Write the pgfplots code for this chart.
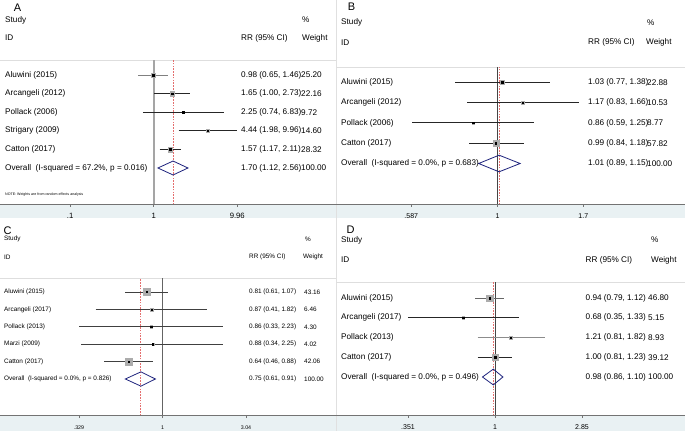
\documentclass[border=0pt]{standalone}
\usepackage{fontspec}
\setmainfont{Liberation Sans}
\usepackage{pgfplots}
\pgfplotsset{compat=1.18}
\usepackage{pgfplotstable}

\definecolor{navyd}{RGB}{30,35,125}
\definecolor{refred}{RGB}{228,110,110}
\definecolor{bandc}{RGB}{233,241,243}
\definecolor{sqgray}{RGB}{172,172,172}
\definecolor{sepc}{RGB}{222,222,222}
\definecolor{nullA}{RGB}{165,165,165}
\definecolor{nullD}{RGB}{70,70,70}
\definecolor{nullC}{RGB}{100,100,100}

% row est lo hi weight
\pgfplotstableread{
row est lo hi w
-1 0.98 0.65 1.46 25.20
-2 1.65 1.00 2.73 22.16
-3 2.25 0.74 6.83 9.72
-4 4.44 1.98 9.96 14.60
-5 1.57 1.17 2.11 28.32
}\tabA
\pgfplotstableread{
row est lo hi w
-1 1.03 0.77 1.38 22.88
-2 1.17 0.83 1.66 10.53
-3 0.86 0.59 1.25 8.77
-4 0.99 0.84 1.18 57.82
}\tabB
\pgfplotstableread{
row est lo hi w
-1 0.81 0.61 1.07 43.16
-2 0.87 0.41 1.82 6.46
-3 0.86 0.33 2.23 4.30
-4 0.88 0.34 2.25 4.02
-5 0.64 0.46 0.88 42.06
}\tabC
\pgfplotstableread{
row est lo hi w
-1 0.94 0.79 1.12 46.80
-2 0.68 0.35 1.33 5.15
-3 1.21 0.81 1.82 8.93
-4 1.00 0.81 1.23 39.12
}\tabD

\newcommand{\ci}[4][black!85]{\addplot[color=#1, line width=0.8pt] coordinates {(#3,#2) (#4,#2)};}
\newcommand{\vref}[4]{\addplot[color=#1, line width=#2, #3] coordinates {(#4,-20) (#4,20)};}
\newcommand{\trow}[8]{%
  \node[#1] at (#3pt,#2pt) {#4};
  \node[#1] at (#5pt,#2pt) {#6};
  \node[#1] at (#7pt,#2pt) {#8};}

\begin{document}
\begin{tikzpicture}[
  t/.style={anchor=west, inner sep=0pt, font=\fontsize{8.2}{9.5}\selectfont},
  tc/.style={anchor=west, inner sep=0pt, font=\fontsize{6.4}{7.5}\selectfont},
  big/.style={inner sep=0pt, anchor=base, font=\fontsize{11}{12}\selectfont}]
\useasboundingbox (0pt,0pt) rectangle (685pt,431pt);
\begin{scope}[shift={(0pt,431pt)}, yscale=-1]
  \fill[bandc] (0pt,204pt) rectangle (685pt,218pt);
  \fill[bandc] (0pt,415pt) rectangle (685pt,431pt);
  \draw[black!12, line width=0.8pt] (336pt,0pt) -- (336pt,431pt);
  \draw[sepc, line width=1pt] (0pt,61pt) -- (336pt,61pt);
  \draw[sepc, line width=1pt] (336pt,68pt) -- (685pt,68pt);
  \draw[sepc, line width=1pt] (0pt,279pt) -- (336pt,279pt);
  \draw[sepc, line width=1pt] (336pt,283pt) -- (685pt,283pt);
\end{scope}

% ---------------- reference lines (underlay axes) ----------------
\begin{axis}[scale only axis, anchor=south west, xmode=log, hide axis,
  at={(0pt,227pt)}, width=336pt, height=143pt,
  xmin=0.014464, xmax=151.1, ymin=-7.9355, ymax=-0.2473]
  \vref{nullA}{1.6pt}{solid}{1}
  \vref{refred}{1.1pt}{dash pattern=on 1.6pt off 1.2pt}{1.70}
\end{axis}
\begin{axis}[scale only axis, anchor=south west, xmode=log, hide axis,
  at={(336pt,227pt)}, width=349pt, height=136pt,
  xmin=0.36860, xmax=3.1868, ymin=-6.995, ymax=-0.2956]
  \vref{nullD}{0.8pt}{solid}{1}
  \vref{refred}{1.1pt}{dash pattern=on 1.6pt off 1.2pt}{1.01}
\end{axis}
\begin{axis}[scale only axis, anchor=south west, xmode=log, hide axis,
  at={(0pt,16pt)}, width=336pt, height=136pt,
  xmin=0.11500, xmax=10.067, ymin=-8.069, ymax=-0.2529]
  \vref{nullC}{1.2pt}{solid}{1}
  \vref{refred}{1.1pt}{dash pattern=on 1.6pt off 1.2pt}{0.75}
\end{axis}
\begin{axis}[scale only axis, anchor=south west, xmode=log, hide axis,
  at={(336pt,16pt)}, width=349pt, height=132pt,
  xmin=0.14751, xmax=9.845, ymin=-6.924, ymax=-0.2405]
  \vref{nullD}{0.8pt}{solid}{1}
  \vref{refred}{1.1pt}{dash pattern=on 1.6pt off 1.2pt}{0.98}
\end{axis}

% ---------------- Panel A ----------------
\begin{axis}[scale only axis, anchor=south west, xmode=log,
  axis x line*=bottom, axis y line=none,
  x axis line style={black!55, line width=0.8pt},
  tick align=outside, major tick length=3pt,
  major tick style={black!55, line width=0.8pt},
  xminorticks=false, ytick=\empty, enlargelimits=false,
  xticklabel style={anchor=center, inner sep=0pt, yshift=-9.3pt, font=\fontsize{7.7}{8}\selectfont},
  at={(0pt,227pt)}, width=336pt, height=143pt,
  xmin=0.014464, xmax=151.1, ymin=-7.9355, ymax=-0.2473,
  xtick={0.1,1,9.96}, xticklabels={.1,1,9.96}]
  \addplot[scatter, only marks, mark=square*, point meta=explicit,
    point meta min=0, point meta max=100,
    scatter/use mapped color={draw=sqgray, fill=sqgray},
    scatter/@pre marker code/.append style={/tikz/mark size={0.45*sqrt(\pgfplotspointmetatransformed/10)}}]
    table[x=est, y=row, meta=w] \tabA;
  \ci[black!50]{-1}{0.65}{1.46}
  \ci{-2}{1.00}{2.73}
  \ci{-3}{0.74}{6.83}
  \ci{-4}{1.98}{9.96}
  \ci{-5}{1.17}{2.11}
  \addplot[only marks, mark=square*, mark size=0.75pt, color=black] table[x=est, y=row] \tabA;
  \addplot[color=navyd, line width=0.8pt] coordinates {(1.12,-6) (1.70,-5.625) (2.56,-6) (1.70,-6.375)} --cycle;
\end{axis}

% ---------------- Panel B ----------------
\begin{axis}[scale only axis, anchor=south west, xmode=log,
  axis x line*=bottom, axis y line=none,
  x axis line style={black!55, line width=0.8pt},
  tick align=outside, major tick length=3pt,
  major tick style={black!55, line width=0.8pt},
  xminorticks=false, ytick=\empty, enlargelimits=false,
  xticklabel style={anchor=center, inner sep=0pt, yshift=-9.3pt, font=\fontsize{7}{8}\selectfont},
  at={(336pt,227pt)}, width=349pt, height=136pt,
  xmin=0.36860, xmax=3.1868, ymin=-6.995, ymax=-0.2956,
  xtick={0.587,1,1.7}, xticklabels={.587,1,1.7}]
  \addplot[scatter, only marks, mark=square*, point meta=explicit,
    point meta min=0, point meta max=100,
    scatter/use mapped color={draw=sqgray, fill=sqgray},
    scatter/@pre marker code/.append style={/tikz/mark size={0.4*sqrt(\pgfplotspointmetatransformed/10)}}]
    table[x=est, y=row, meta=w] \tabB;
  \ci{-1}{0.77}{1.38}
  \ci{-2}{0.83}{1.66}
  \ci{-3}{0.59}{1.25}
  \ci{-4}{0.84}{1.18}
  \addplot[only marks, mark=square*, mark size=0.75pt, color=black] table[x=est, y=row] \tabB;
  \addplot[color=navyd, line width=0.8pt] coordinates {(0.89,-5) (1.01,-4.59) (1.15,-5) (1.01,-5.41)} --cycle;
\end{axis}

% ---------------- Panel C ----------------
\begin{axis}[scale only axis, anchor=south west, xmode=log,
  axis x line*=bottom, axis y line=none,
  x axis line style={black!55, line width=0.8pt},
  tick align=outside, major tick length=3pt,
  major tick style={black!55, line width=0.8pt},
  xminorticks=false, ytick=\empty, enlargelimits=false,
  xticklabel style={anchor=center, inner sep=0pt, yshift=-9.3pt, font=\fontsize{5.3}{6}\selectfont},
  at={(0pt,16pt)}, width=336pt, height=136pt,
  xmin=0.11500, xmax=10.067, ymin=-8.069, ymax=-0.2529,
  xtick={0.329,1,3.04}, xticklabels={.329,1,3.04}]
  \addplot[scatter, only marks, mark=square*, point meta=explicit,
    point meta min=0, point meta max=100,
    scatter/use mapped color={draw=sqgray, fill=sqgray},
    scatter/@pre marker code/.append style={/tikz/mark size={0.53*sqrt(\pgfplotspointmetatransformed/10)}}]
    table[x=est, y=row, meta=w] \tabC;
  \ci[black!75]{-1}{0.61}{1.07}
  \ci[black!75]{-2}{0.41}{1.82}
  \ci[black!75]{-3}{0.33}{2.23}
  \ci[black!75]{-4}{0.34}{2.25}
  \ci[black!75]{-5}{0.46}{0.88}
  \addplot[only marks, mark=square*, mark size=0.65pt, color=black] table[x=est, y=row] \tabC;
  \addplot[color=navyd, line width=0.8pt] coordinates {(0.61,-6) (0.75,-5.59) (0.91,-6) (0.75,-6.41)} --cycle;
\end{axis}

% ---------------- Panel D ----------------
\begin{axis}[scale only axis, anchor=south west, xmode=log,
  axis x line*=bottom, axis y line=none,
  x axis line style={black!55, line width=0.8pt},
  tick align=outside, major tick length=3pt,
  major tick style={black!55, line width=0.8pt},
  xminorticks=false, ytick=\empty, enlargelimits=false,
  xticklabel style={anchor=center, inner sep=0pt, yshift=-9.3pt, font=\fontsize{7}{8}\selectfont},
  at={(336pt,16pt)}, width=349pt, height=132pt,
  xmin=0.14751, xmax=9.845, ymin=-6.924, ymax=-0.2405,
  xtick={0.351,1,2.85}, xticklabels={.351,1,2.85}]
  \addplot[scatter, only marks, mark=square*, point meta=explicit,
    point meta min=0, point meta max=100,
    scatter/use mapped color={draw=sqgray, fill=sqgray},
    scatter/@pre marker code/.append style={/tikz/mark size={0.48*sqrt(\pgfplotspointmetatransformed/10)}}]
    table[x=est, y=row, meta=w] \tabD;
  \ci[black!60]{-1}{0.79}{1.12}
  \ci{-2}{0.35}{1.33}
  \ci[black!45]{-3}{0.81}{1.82}
  \ci{-4}{0.81}{1.23}
  \addplot[only marks, mark=square*, mark size=0.75pt, color=black] table[x=est, y=row] \tabD;
  \addplot[color=navyd, line width=0.8pt] coordinates {(0.86,-5) (0.98,-4.6) (1.10,-5) (0.98,-5.4)} --cycle;
\end{axis}

% ---------------- Text ----------------
\begin{scope}[shift={(0pt,431pt)}, yscale=-1]
  % Panel A
  \node[big] at (17.5pt,11.3pt) {A};
  \node[t] at (5pt,20pt) {Study};
  \node[t] at (5pt,38pt) {ID};
  \node[t] at (241pt,38pt) {RR (95\% CI)};
  \node[t] at (302pt,20pt) {\%};
  \node[t] at (302pt,38pt) {Weight};
  \trow{t}{75}{5}{Aluwini (2015)}{241}{0.98 (0.65, 1.46)}{301}{25.20}
  \trow{t}{93.6}{5}{Arcangeli (2012)}{241}{1.65 (1.00, 2.73)}{301}{22.16}
  \trow{t}{112.2}{5}{Pollack (2006)}{241}{2.25 (0.74, 6.83)}{301}{9.72}
  \trow{t}{130.8}{5}{Strigary (2009)}{241}{4.44 (1.98, 9.96)}{301}{14.60}
  \trow{t}{149.4}{5}{Catton (2017)}{241}{1.57 (1.17, 2.11)}{301}{28.32}
  \trow{t}{168}{5}{Overall\ \ (I-squared = 67.2\%, p = 0.016)}{241}{1.70 (1.12, 2.56)}{301}{100.00}
  \node[anchor=west, inner sep=0pt, font=\fontsize{3.6}{4}\selectfont] at (5pt,195pt) {NOTE: Weights are from random effects analysis};
  % Panel B
  \node[big] at (351.5pt,10.2pt) {B};
  \node[t] at (341pt,22.5pt) {Study};
  \node[t] at (341pt,42.3pt) {ID};
  \node[t] at (588pt,42.3pt) {RR (95\% CI)};
  \node[t] at (647pt,22.5pt) {\%};
  \node[t] at (646pt,42.3pt) {Weight};
  \trow{t}{82.3}{341}{Aluwini (2015)}{588}{1.03 (0.77, 1.38)}{647}{22.88}
  \trow{t}{102.6}{341}{Arcangeli (2012)}{588}{1.17 (0.83, 1.66)}{647}{10.53}
  \trow{t}{122.9}{341}{Pollack (2006)}{588}{0.86 (0.59, 1.25)}{647}{8.77}
  \trow{t}{143.2}{341}{Catton (2017)}{588}{0.99 (0.84, 1.18)}{647}{57.82}
  \trow{t}{163.5}{341}{Overall\ \ (I-squared = 0.0\%, p = 0.683)}{588}{1.01 (0.89, 1.15)}{647}{100.00}
  % Panel C
  \node[big] at (7.5pt,234.3pt) {C};
  \node[tc] at (4pt,239pt) {Study};
  \node[tc] at (4pt,257pt) {ID};
  \node[tc] at (249pt,257pt) {RR (95\% CI)};
  \node[tc] at (305pt,239pt) {\%};
  \node[tc] at (303pt,257pt) {Weight};
  \trow{tc}{292}{4}{Aluwini (2015)}{249}{0.81 (0.61, 1.07)}{304}{43.16}
  \trow{tc}{309.4}{4}{Arcangeli (2017)}{249}{0.87 (0.41, 1.82)}{304}{6.46}
  \trow{tc}{326.8}{4}{Pollack (2013)}{249}{0.86 (0.33, 2.23)}{304}{4.30}
  \trow{tc}{344.2}{4}{Marzi (2009)}{249}{0.88 (0.34, 2.25)}{304}{4.02}
  \trow{tc}{361.6}{4}{Catton (2017)}{249}{0.64 (0.46, 0.88)}{304}{42.06}
  \trow{tc}{379}{4}{Overall\ \ (I-squared = 0.0\%, p = 0.826)}{249}{0.75 (0.61, 0.91)}{304}{100.00}
  % Panel D
  \node[big] at (350.5pt,234pt) {D};
  \node[t] at (341pt,240pt) {Study};
  \node[t] at (341pt,260pt) {ID};
  \node[t] at (585.5pt,260pt) {RR (95\% CI)};
  \node[t] at (651pt,240pt) {\%};
  \node[t] at (651pt,260pt) {Weight};
  \trow{t}{298}{341}{Aluwini (2015)}{585.5}{0.94 (0.79, 1.12)}{648}{46.80}
  \trow{t}{317.75}{341}{Arcangeli (2017)}{585.5}{0.68 (0.35, 1.33)}{648}{5.15}
  \trow{t}{337.5}{341}{Pollack (2013)}{585.5}{1.21 (0.81, 1.82)}{648}{8.93}
  \trow{t}{357.25}{341}{Catton (2017)}{585.5}{1.00 (0.81, 1.23)}{648}{39.12}
  \trow{t}{377}{341}{Overall\ \ (I-squared = 0.0\%, p = 0.496)}{585.5}{0.98 (0.86, 1.10)}{648}{100.00}
\end{scope}
\end{tikzpicture}
\end{document}
